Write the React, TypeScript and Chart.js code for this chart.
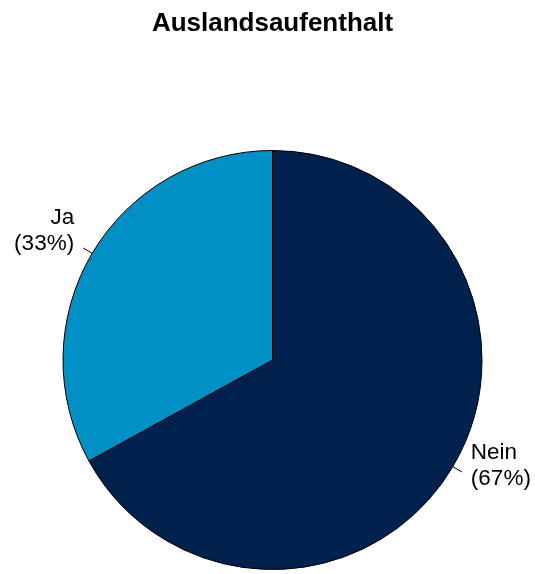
import React, { useEffect, useRef } from "react";
import { Chart, registerables } from "chart.js";

Chart.register(...registerables);

const titleText = "Auslandsaufenthalt";
const categories = ["Nein", "Ja"];
const percents = [67, 33];
const colors = ["#00214d", "#0090c6"];

const labelPlugin = {
  id: "pieLabels",
  afterDraw(chart: any) {
    const ctx = chart.ctx;
    const meta = chart.getDatasetMeta(0);
    const area = chart.chartArea;
    ctx.save();
    // title, centred over the plot
    ctx.fillStyle = "#000";
    ctx.font = "bold 26px 'Liberation Sans', Arial, sans-serif";
    ctx.textAlign = "center";
    ctx.textBaseline = "middle";
    ctx.fillText(titleText, (area.left + area.right) / 2, 24);

    ctx.font = "22.5px 'Liberation Sans', Arial, sans-serif";
    meta.data.forEach((arc: any, i: number) => {
      const mid = (arc.startAngle + arc.endAngle) / 2;
      const r = arc.outerRadius;
      const cx = arc.x;
      const cy = arc.y;
      const cos = Math.cos(mid);
      const sin = Math.sin(mid);
      ctx.strokeStyle = "#000";
      ctx.lineWidth = 1;
      ctx.beginPath();
      ctx.moveTo(cx + r * cos, cy + r * sin);
      ctx.lineTo(cx + 1.05 * r * cos, cy + 1.05 * r * sin);
      ctx.stroke();
      const lx = cx + 1.1 * r * cos;
      const ly = cy + 1.1 * r * sin;
      ctx.textAlign = cos < 0 ? "right" : "left";
      ctx.textBaseline = "middle";
      ctx.fillText(categories[i], lx, ly - 25);
      ctx.fillText("(" + percents[i] + "%)", lx, ly + 1);
    });
    ctx.restore();
  },
};

export default function App() {
  const ref = useRef<HTMLCanvasElement>(null);
  useEffect(() => {
    document.body.style.margin = "0";
    const chart = new Chart(ref.current!, {
      type: "pie",
      data: {
        labels: categories,
        datasets: [
          {
            data: percents,
            backgroundColor: colors,
            borderColor: "#000",
            borderWidth: 1,
          },
        ],
      },
      options: {
        responsive: false,
        animation: false,
        layout: { padding: { top: 150, bottom: 4, left: 62, right: 52 } },
        plugins: {
          legend: { display: false },
          title: { display: false },
          tooltip: { enabled: false },
        },
      },
      plugins: [labelPlugin],
    });
    return () => chart.destroy();
  }, []);
  return (
    <div style={{ position: "fixed", left: 0, top: 0, width: 535, height: 574, background: "#fff" }}>
      <canvas ref={ref} width={535} height={574} style={{ width: 535, height: 574 }} />
    </div>
  );
}
